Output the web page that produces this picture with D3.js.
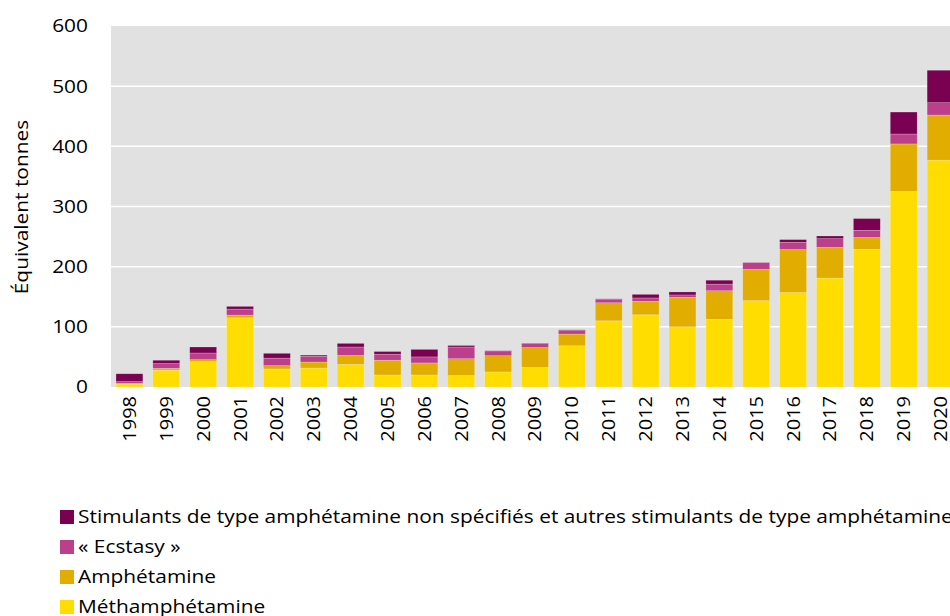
<!DOCTYPE html>
<html>
<head>
<meta charset="utf-8">
<script src="https://cdn.jsdelivr.net/npm/d3@7"></script>
<style>
  body { margin: 0; background: #fff; }
  svg { display: block; font-family: "Open Sans", sans-serif; }
</style>
</head>
<body>
<div id="container"></div>
<script>
// values (tonnes equivalent)
var years = ["1998","1999","2000","2001","2002","2003","2004","2005","2006","2007","2008",
             "2009","2010","2011","2012","2013","2014","2015","2016","2017","2018","2019","2020"];
var metham = [5, 28, 42, 115, 30, 31.5, 37.5, 20, 20, 19, 25, 32.5, 68.5, 110, 120, 100, 112.5, 143.5, 157, 181, 229, 325, 377];
var amphet = [1, 3, 3.5, 4.5, 5.5, 10, 15, 24.5, 20, 28, 27, 33, 19.5, 30, 22.5, 49, 47.5, 52, 71.5, 51, 19.5, 79, 75];
var ecstasy = [3, 8, 11, 10, 12.5, 9.5, 14, 10, 10, 19.5, 8, 7, 6, 5.5, 5.5, 4, 11, 11.5, 12, 14.5, 12, 16.5, 20.5];
var others = [13, 5.5, 10, 4.5, 8, 2, 6, 4.5, 12.5, 2.5, 0.5, 0.5, 1, 1, 6, 5, 6.5, 0, 4.5, 4.5, 19.5, 36.5, 54];

var seriesKeys = ["meth", "amph", "ecst", "other"];
var seriesNames = {
  other: "Stimulants de type amphétamine non spécifiés et autres stimulants de type amphétamine",
  ecst: "« Ecstasy »",
  amph: "Amphétamine",
  meth: "Méthamphétamine"
};
var colors = { meth: "#ffdd00", amph: "#e0ad00", ecst: "#bb3f8a", other: "#7a0052" };
var yTicks = [0, 100, 200, 300, 400, 500, 600];

var width = 950, height = 616;
var plotLeft = 111, plotTop = 26, plotBottom = 387;
var fontSize = "18.5px";
var stretch = 1.13; // the original text looks a bit wider than the font we have

var rows = years.map(function(y, i) {
  return { year: y, meth: metham[i], amph: amphet[i], ecst: ecstasy[i], other: others[i] };
});

var svg = d3.select("div#container")
  .append("svg")
  .attr("width", width)
  .attr("height", height);

var x = d3.scaleBand()
  .domain(years)
  .range([plotLeft, plotLeft + 23 * 36.87])
  .paddingInner(0.27)
  .paddingOuter(0.135);

var y = d3.scaleLinear()
  .domain([0, 600])
  .range([plotBottom, plotTop]);

// plot background
svg.append("rect")
  .attr("x", plotLeft)
  .attr("y", plotTop)
  .attr("width", width - plotLeft)
  .attr("height", plotBottom - plotTop)
  .style("fill", "#e1e1e1");

// grid lines
svg.append("g").selectAll("line")
  .data(yTicks.filter(function(d) { return d > 0 && d < 600; }))
  .join("line")
  .attr("x1", plotLeft).attr("x2", width)
  .attr("y1", function(d) { return y(d); })
  .attr("y2", function(d) { return y(d); })
  .style("stroke", "#ffffff")
  .style("stroke-width", 1.5);

// stacked bars
var stack = d3.stack().keys(seriesKeys)(rows);

svg.append("g").selectAll("g")
  .data(stack)
  .join("g")
  .style("fill", function(d) { return colors[d.key]; })
  .selectAll("rect")
  .data(function(d) { return d; })
  .join("rect")
  .attr("x", function(d) { return x(d.data.year); })
  .attr("y", function(d) { return y(d[1]); })
  .attr("width", x.bandwidth())
  .attr("height", function(d) { return Math.max(0, y(d[0]) - y(d[1])); })
  .style("stroke", "rgba(255,255,255,0.35)")
  .style("stroke-width", 0.6);

// y axis
var yAxis = svg.append("g")
  .attr("transform", "translate(" + plotLeft + ",0)")
  .call(d3.axisLeft(y).tickValues(yTicks).tickSize(0).tickPadding(23));
yAxis.select(".domain").remove();
yAxis.selectAll("text")
  .attr("x", 0)
  .attr("transform", "translate(-23,0) scale(" + stretch + ",1)")
  .style("font-size", fontSize)
  .style("font-family", "'Open Sans', sans-serif")
  .style("fill", "#000");

svg.append("text")
  .attr("transform", "translate(22,207) rotate(-90) scale(" + stretch + ",1)")
  .attr("text-anchor", "middle")
  .attr("dy", "0.35em")
  .style("font-size", fontSize)
  .style("fill", "#000")
  .text("Équivalent tonnes");

// x axis
var xAxis = svg.append("g")
  .attr("transform", "translate(0," + plotBottom + ")")
  .call(d3.axisBottom(x).tickSize(0).tickPadding(0));
xAxis.select(".domain").remove();
xAxis.selectAll("text")
  .attr("transform", "rotate(-90) translate(-9,0) scale(1.08,1)")
  .attr("x", 0)
  .attr("y", 0)
  .attr("dy", "0.35em")
  .attr("text-anchor", "end")
  .style("font-size", fontSize)
  .style("font-family", "'Open Sans', sans-serif")
  .style("fill", "#000");

// legend
var legendOrder = ["other", "ecst", "amph", "meth"];
var legend = svg.append("g").selectAll("g")
  .data(legendOrder)
  .join("g")
  .attr("transform", function(d, i) { return "translate(60," + (517 + i * 30) + ")"; });

legend.append("rect")
  .attr("x", 0).attr("y", -7)
  .attr("width", 14).attr("height", 14)
  .style("fill", function(d) { return colors[d]; });

legend.append("text")
  .attr("transform", "translate(18,0) scale(" + stretch + ",1)")
  .attr("dy", "0.35em")
  .style("font-size", fontSize)
  .style("fill", "#000")
  .text(function(d) { return seriesNames[d]; });
</script>
</body>
</html>
